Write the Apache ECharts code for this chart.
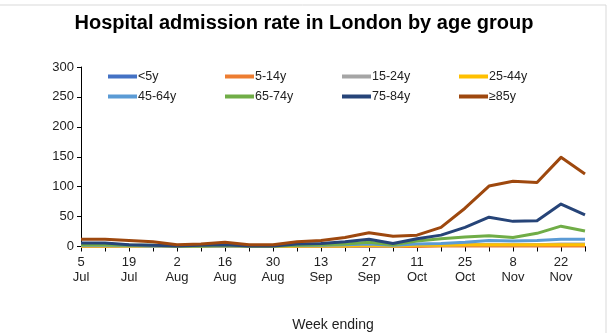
<!DOCTYPE html>
<html>
<head>
<meta charset="utf-8">
<script src="https://cdn.jsdelivr.net/npm/echarts@6/dist/echarts.min.js"></script>
<style>
  html, body { margin: 0; padding: 0; background: #fff; }
  #chart { width: 616px; height: 333px; }
</style>
</head>
<body>
<div id="chart"></div>
<script>
// Week-ending dates (weekly, 5 Jul to 29 Nov)
const weeks = ["5 Jul","12 Jul","19 Jul","26 Jul","2 Aug","9 Aug","16 Aug","23 Aug","30 Aug",
  "6 Sep","13 Sep","20 Sep","27 Sep","4 Oct","11 Oct","18 Oct","25 Oct","1 Nov","8 Nov",
  "15 Nov","22 Nov","29 Nov"];

// Admission rate per age group
const under5   = [2,2,1,1,0,1,1,0,0,1,1,1,2,1,2,2,3,3,2,3,3,3];
const age5_14  = [0,0,0,0,0,0,0,0,0,0,0,0,0,0,0,1,1,1,1,1,1,1];
const age15_24 = [1,1,0,0,0,0,0,0,0,1,1,1,1,1,2,2,3,3,3,3,4,4];
const age25_44 = [1,1,1,1,0,0,1,0,0,1,1,1,2,1,2,2,3,3,3,3,3,3];
const age45_64 = [2,2,2,1,1,1,1,1,1,2,2,3,4,2,4,5,7,10,9,10,12,12];
const age65_74 = [3,3,2,2,1,1,2,1,1,2,3,4,7,3,9,13,16,18,15,22,34,26];
const age75_84 = [6,6,3,2,1,2,3,1,1,4,5,8,12,5,13,19,32,49,42,43,71,53];
const age85up  = [12,12,10,8,3,4,7,3,3,8,10,15,23,17,19,32,64,101,109,107,149,121];

const yTicks = { min: 0, max: 300, interval: 50 };

const groups = [
  { name: "<5y",    data: under5,   color: "#4472C4" },
  { name: "5-14y",  data: age5_14,  color: "#ED7D31" },
  { name: "15-24y", data: age15_24, color: "#A5A5A5" },
  { name: "25-44y", data: age25_44, color: "#FFC000" },
  { name: "45-64y", data: age45_64, color: "#5B9BD5" },
  { name: "65-74y", data: age65_74, color: "#70AD47" },
  { name: "75-84y", data: age75_84, color: "#264478" },
  { name: "\u226585y", data: age85up, color: "#9E480E" }
];

const font = "'Liberation Sans', Arial, sans-serif";

// One legend per entry so the entries sit on a fixed 4-column grid
const colX = [108, 225, 342, 459];
const rowY = [70, 90];
const legends = groups.map((g, i) => ({
  data: [g.name],
  left: colX[i % 4],
  top: rowY[Math.floor(i / 4)],
  padding: 0,
  icon: "rect",
  itemWidth: 29,
  itemHeight: 4,
  itemGap: 0,
  selectedMode: false,
  textStyle: { fontFamily: font, fontSize: 12.5, color: "#222", padding: [0, 0, 0, -4] }
}));

const chart = echarts.init(document.getElementById("chart"), null, { renderer: "canvas" });
chart.setOption({
  animation: false,
  backgroundColor: "#fff",
  title: {
    text: "Hospital admission rate in London by age group",
    left: 299,
    textAlign: "center",
    top: 8,
    textStyle: { fontFamily: font, fontSize: 20, fontWeight: "bold", color: "#000" }
  },
  graphic: [{
    type: "rect",
    shape: { x: -2, y: 5, width: 608, height: 340 },
    style: { fill: "none", stroke: "#d9d9d9", lineWidth: 1 },
    silent: true
  }],
  legend: legends,
  grid: { left: 81, right: 31, top: 67, bottom: 86.5, outerBoundsMode: "none", containLabel: false },
  xAxis: {
    type: "category",
    data: weeks,
    boundaryGap: false,
    name: "Week ending",
    nameLocation: "middle",
    nameGap: 72,
    nameTextStyle: { fontFamily: font, fontSize: 14, color: "#222" },
    axisLine: { lineStyle: { color: "#000", width: 1 } },
    axisTick: { show: true, interval: 0, length: 5, lineStyle: { color: "#000" } },
    axisLabel: {
      interval: 1,
      fontFamily: font,
      fontSize: 13,
      color: "#222",
      lineHeight: 15,
      margin: 8,
      formatter: v => v.replace(" ", "\n")
    },
    splitLine: { show: false }
  },
  yAxis: {
    type: "value",
    min: yTicks.min,
    max: yTicks.max,
    interval: yTicks.interval,
    axisLine: { show: true, lineStyle: { color: "#000", width: 1 } },
    axisTick: { show: true, length: 4, lineStyle: { color: "#000" } },
    axisLabel: { fontFamily: font, fontSize: 13, color: "#222", margin: 7 },
    splitLine: { show: false }
  },
  series: groups.map(g => ({
    name: g.name,
    type: "line",
    data: g.data,
    symbol: "none",
    smooth: false,
    color: g.color,
    lineStyle: { width: 3, color: g.color, join: "round" }
  }))
});
</script>
</body>
</html>
